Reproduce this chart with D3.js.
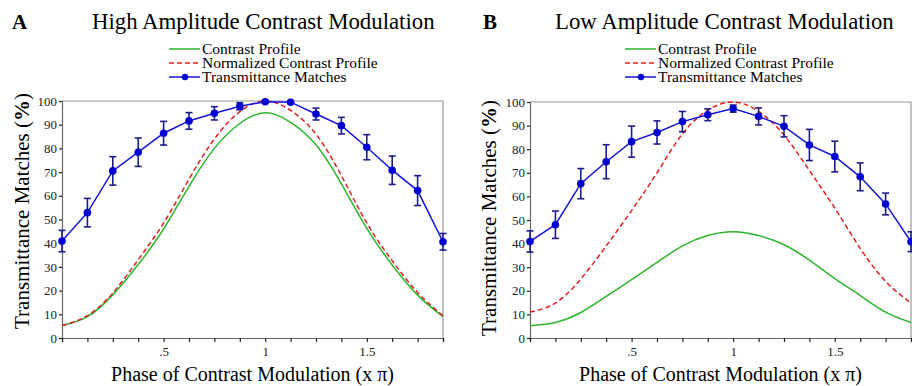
<!DOCTYPE html>
<html>
<head>
<meta charset="utf-8">
<script src="https://cdn.jsdelivr.net/npm/d3@7"></script>
<style>
  body { margin: 0; background: #fff; }
  svg { display: block; }
  svg text { font-family: "Liberation Serif", "Times New Roman", "DejaVu Serif", serif; }
  .tick text { font-size: 13px; fill: #222; }
</style>
</head>
<body>
<svg id="chart" width="912" height="386" font-family="Liberation Serif, Times New Roman, serif"></svg>
<script>
// phase positions (x pi) shared by every series
const phase = [0, 0.125, 0.25, 0.375, 0.5, 0.625, 0.75, 0.875, 1, 1.125, 1.25, 1.375, 1.5, 1.625, 1.75, 1.875];

// panel A - high amplitude
const contrastA   = [5.2, 9, 18.2, 31, 46, 64, 80, 90.5, 95, 91, 81.5, 65, 46.3, 30.8, 18.1, 9];
const normalizedA = [5.3, 9.4, 19, 33, 48.5, 67, 84, 95.5, 100, 96, 86, 68.5, 48.5, 32.6, 19.2, 9.4];
const matchesA    = [40.9, 52.9, 70.5, 78.4, 86.4, 91.6, 94.8, 97.8, 99.7, 99.5, 94.5, 89.6, 80.5, 70.8, 62.2, 40.6];
const errorsA     = [4.5, 6, 6, 6, 5, 3.5, 2.8, 1.5, 0.5, 0.5, 2.5, 3.5, 5.3, 6, 6.3, 3.5];

// panel B - low amplitude
const contrastB   = [5.2, 6.6, 10.8, 17.6, 24.7, 32, 39, 43.4, 45, 43.4, 39.5, 33, 25.2, 18, 11, 6.6];
const normalizedB = [11, 14.8, 25, 39, 54, 70, 86.5, 96.5, 100, 96, 86, 71, 55, 38, 24, 14.8];
const matchesB    = [40.9, 48, 65.4, 74.7, 83.2, 87.1, 91.7, 94.6, 97.2, 93.9, 89.7, 81.8, 76.9, 68.3, 56.8, 40.8];
const errorsB     = [4.5, 5.8, 6.4, 7.2, 6.6, 4.9, 4.3, 2.5, 1.5, 3.6, 4.5, 6.6, 6.5, 5.9, 4.6, 4.2];

const yTicks = [0, 10, 20, 30, 40, 50, 60, 70, 80, 90, 100];
const xTicks = [0, 0.125, 0.25, 0.375, 0.5, 0.625, 0.75, 0.875, 1, 1.125, 1.25, 1.375, 1.5, 1.625, 1.75, 1.875];
const xTickLabels = { 0.5: '.5', 1: '1', 1.5: '1.5' };
const legendLabels = ['Contrast Profile', 'Normalized Contrast Profile', 'Transmittance Matches'];

const colors = { contrast: '#2cb52c', normalized: '#e02020', matches: '#1414d8', errors: '#1c1c8c' };
const serif = 'Liberation Serif, Times New Roman, serif';

const svg = d3.select('#chart');

function drawPanel(p) {
  const x = d3.scaleLinear().domain([0, 1.875]).range([p.left, p.right]);
  const y = d3.scaleLinear().domain([0, 100]).range([p.bottom, p.top]);
  const g = svg.append('g').attr('font-family', serif);

  // letter + title
  g.append('text').attr('x', p.letterX).attr('y', 29)
    .attr('font-size', 21).attr('font-weight', 'bold').text(p.letter);
  g.append('text').attr('x', p.titleX).attr('y', 29)
    .attr('font-size', 22.8).text(p.title);

  // frame (top and right)
  g.append('path')
    .attr('d', `M${p.left},${p.top}H${p.right}V${p.bottom}`)
    .attr('fill', 'none').attr('stroke', '#999').attr('stroke-width', 1.2);

  // axes
  const yAxis = g.append('g').attr('transform', `translate(${p.left},0)`)
    .call(d3.axisLeft(y).tickValues(yTicks).tickSize(3).tickPadding(2));
  const xAxis = g.append('g').attr('transform', `translate(0,${p.bottom})`)
    .call(d3.axisBottom(x).tickValues(xTicks).tickSize(4).tickPadding(5)
      .tickFormat(d => xTickLabels[d] || ''));
  [yAxis, xAxis].forEach(a => {
    a.attr('font-family', serif);
    a.select('.domain').attr('stroke', '#666').attr('stroke-width', 1.2);
    a.selectAll('.tick line').attr('stroke', '#222').attr('stroke-width', 1.2);
  });

  // axis titles
  const yt = g.append('text')
    .attr('transform', `translate(${p.yTitleX},${p.yTitleY}) rotate(-90)`)
    .attr('text-anchor', 'middle').attr('font-size', 21);
  yt.append('tspan').text('Transmittance Matches (');
  yt.append('tspan').attr('font-weight', 'bold').text('%');
  yt.append('tspan').text(')');
  g.append('text')
    .attr('x', (p.left + p.right) / 2).attr('y', 381)
    .attr('text-anchor', 'middle').attr('font-size', 20)
    .text('Phase of Contrast Modulation (x \u03c0)');

  const line = d3.line().x((d, i) => x(phase[i])).y(d => y(d)).curve(d3.curveNatural);

  g.append('path').datum(p.contrast).attr('d', line)
    .attr('fill', 'none').attr('stroke', colors.contrast).attr('stroke-width', 1.5);
  g.append('path').datum(p.normalized).attr('d', line)
    .attr('fill', 'none').attr('stroke', colors.normalized).attr('stroke-width', 1.5)
    .attr('stroke-dasharray', '5,3');

  // error bars
  const eb = g.append('g').attr('stroke', colors.errors).attr('stroke-width', 1.6);
  p.matches.forEach((v, i) => {
    const cx = x(phase[i]), lo = y(v - p.errors[i]), hi = y(v + p.errors[i]);
    eb.append('line').attr('x1', cx).attr('x2', cx).attr('y1', lo).attr('y2', hi);
    eb.append('line').attr('x1', cx - 3.5).attr('x2', cx + 3.5).attr('y1', lo).attr('y2', lo);
    eb.append('line').attr('x1', cx - 3.5).attr('x2', cx + 3.5).attr('y1', hi).attr('y2', hi);
  });

  const straight = d3.line().x((d, i) => x(phase[i])).y(d => y(d));
  g.append('path').datum(p.matches).attr('d', straight)
    .attr('fill', 'none').attr('stroke', colors.matches).attr('stroke-width', 1.5);
  g.append('g').selectAll('circle').data(p.matches).join('circle')
    .attr('cx', (d, i) => x(phase[i])).attr('cy', d => y(d)).attr('r', 3.8)
    .attr('fill', '#0000d0');

  // legend
  const lg = g.append('g');
  const rows = [49, 63, 77];
  lg.append('line').attr('x1', p.legendX).attr('x2', p.legendX + 31)
    .attr('y1', rows[0]).attr('y2', rows[0]).attr('stroke', colors.contrast).attr('stroke-width', 1.5);
  lg.append('line').attr('x1', p.legendX).attr('x2', p.legendX + 31)
    .attr('y1', rows[1]).attr('y2', rows[1]).attr('stroke', colors.normalized).attr('stroke-width', 1.5)
    .attr('stroke-dasharray', '5,3');
  lg.append('line').attr('x1', p.legendX).attr('x2', p.legendX + 31)
    .attr('y1', rows[2]).attr('y2', rows[2]).attr('stroke', colors.matches).attr('stroke-width', 1.5);
  lg.append('circle').attr('cx', p.legendX + 16).attr('cy', rows[2]).attr('r', 3.2).attr('fill', '#0000d0');
  legendLabels.forEach((t, i) => {
    lg.append('text').attr('x', p.legendX + 33).attr('y', rows[i] + 4.5)
      .attr('font-size', 15.5).text(t);
  });
}

drawPanel({
  letter: 'A', letterX: 12, titleX: 92, title: 'High Amplitude Contrast Modulation',
  left: 62, right: 443, top: 101, bottom: 338, yTitleX: 29, yTitleY: 211, legendX: 169,
  contrast: contrastA, normalized: normalizedA, matches: matchesA, errors: errorsA
});
drawPanel({
  letter: 'B', letterX: 483, titleX: 555, title: 'Low Amplitude Contrast Modulation',
  left: 530, right: 911, top: 102, bottom: 338, yTitleX: 496, yTitleY: 218, legendX: 625,
  contrast: contrastB, normalized: normalizedB, matches: matchesB, errors: errorsB
});
</script>
</body>
</html>
